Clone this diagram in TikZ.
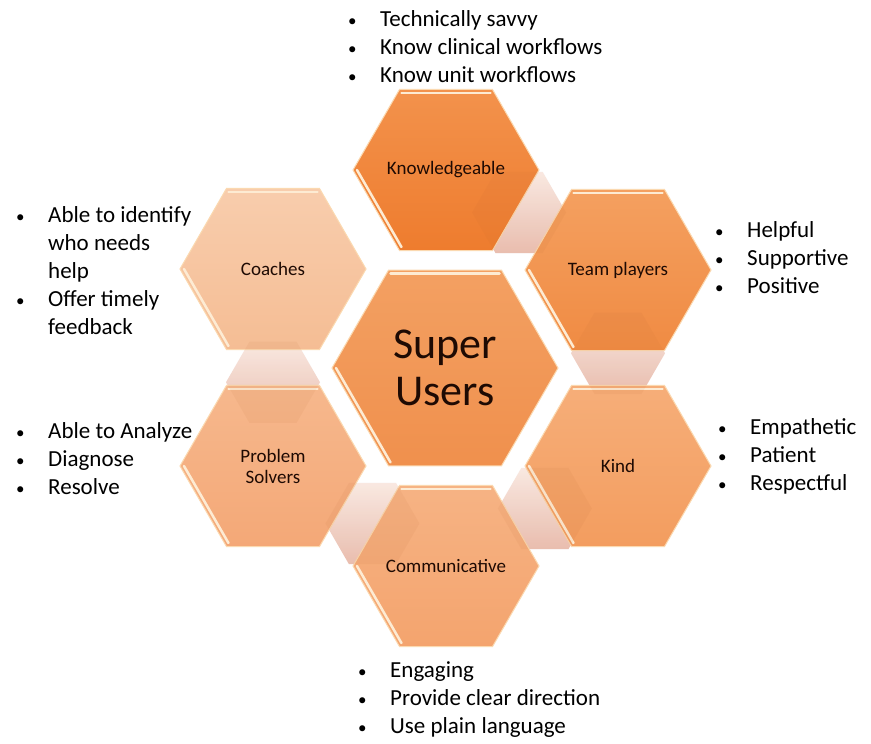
\documentclass[tikz,border=0pt]{standalone}
\usepackage{fontspec}
\setmainfont{Carlito}
\usetikzlibrary{shapes.geometric, calc}

\definecolor{knTop}{HTML}{F3924C}
\definecolor{knBot}{HTML}{EE7C2E}
\definecolor{tpTop}{HTML}{F4A060}
\definecolor{tpBot}{HTML}{F08B43}
\definecolor{suTop}{HTML}{F3A062}
\definecolor{suBot}{HTML}{F0904D}
\definecolor{kdTop}{HTML}{F6AE79}
\definecolor{kdBot}{HTML}{F39D5F}
\definecolor{cmTop}{HTML}{F6B384}
\definecolor{cmBot}{HTML}{F4A46E}
\definecolor{psTop}{HTML}{F6B88D}
\definecolor{psBot}{HTML}{F4A877}
\definecolor{coTop}{HTML}{F8CDAD}
\definecolor{coBot}{HTML}{F5BD94}
\definecolor{linkTop}{HTML}{FEF3EF}
\definecolor{linkBot}{HTML}{EDC4B8}
\definecolor{linkVeil}{HTML}{B8642E}
\definecolor{rimCol}{HTML}{FBD9B0}
\definecolor{hiliteCol}{HTML}{FDEBD3}
\definecolor{labelCol}{HTML}{1E0A03}

\newcommand{\dotmark}{{\fontsize{17}{28}\selectfont •}}

\begin{document}
\begin{tikzpicture}[x=1pt, y=-1pt,
    hexcell/.style={regular polygon, regular polygon sides=6, minimum size=186pt,
      inner sep=0pt, draw=rimCol, line width=1pt, align=center,
      text=labelCol, font=\fontsize{19}{21}\selectfont},
    linkcell/.style={regular polygon, regular polygon sides=6, minimum size=94pt,
      inner sep=0pt},
    traits/.style={anchor=base west, inner sep=0pt, font=\fontsize{23}{28}\selectfont},
    hilite/.style={draw=hiliteCol, line width=2.5pt, line cap=round}]
    % Page
    \fill[white] (0,0) rectangle (871,744);
    \useasboundingbox (0,0) rectangle (871,744);
    % Cell centres
    \coordinate (pSu) at (445,368);
    \coordinate (pKn) at (446,170);
    \coordinate (pTp) at (618,270);
    \coordinate (pKd) at (618,466);
    \coordinate (pCm) at (446,566);
    \coordinate (pPs) at (273,466);
    \coordinate (pCo) at (273,269);
    % Small link cells between neighbours (behind)
    \foreach \a/\b [count=\i] in {pKn/pTp, pTp/pKd, pKd/pCm, pCm/pPs, pPs/pCo}
      \node[linkcell, top color=linkTop, bottom color=linkBot] (lnk\i) at ($(\a)!0.425!(\b)$) {};
    % Outer cells (wide labels kept from growing the cell)
    \node[hexcell, top color=knTop, bottom color=knBot] (kn) at (pKn) {\makebox[0pt]{Knowledgeable}};
    \node[hexcell, top color=tpTop, bottom color=tpBot] (tp) at (pTp) {Team players};
    \node[hexcell, top color=kdTop, bottom color=kdBot] (kd) at (pKd) {Kind};
    \node[hexcell, top color=cmTop, bottom color=cmBot] (cm) at (pCm) {\makebox[0pt]{Communicative}};
    \node[hexcell, top color=psTop, bottom color=psBot] (ps) at (pPs) {Problem\\Solvers};
    \node[hexcell, top color=coTop, bottom color=coBot] (co) at (pCo) {Coaches};
    % Centre cell
    \node[hexcell, minimum size=226pt, top color=suTop, bottom color=suBot,
      font=\fontsize{44}{47}\selectfont] (su) at (pSu) {Super\\Users};
    % Bevel highlights
    \foreach \h/\r in {kn/93, tp/93, kd/93, cm/93, ps/93, co/93, su/113} {
      \draw[hilite] ($(\h)+(240:{\r-4})$) -- ($(\h)+(300:{\r-4})$);
      \draw[hilite] ($(\h)+(180:{\r-4})$) -- ($(\h)+(120:{\r-4})$);
    }
    % Link cells showing through
    \foreach \i in {1,...,5}
      \node[linkcell, fill=linkVeil, fill opacity=0.07] (veil\i) at (lnk\i) {};
    % Trait lists
    \node[traits] (knlist) at (348,27) {\begin{tabular}[t]{@{}p{32pt}@{}l@{}}
      \dotmark & Technically savvy\\ \dotmark & Know clinical workflows\\ \dotmark & Know unit workflows\end{tabular}};
    \node[traits] (tplist) at (715,237) {\begin{tabular}[t]{@{}p{32pt}@{}l@{}}
      \dotmark & Helpful\\ \dotmark & Supportive\\ \dotmark & Positive\end{tabular}};
    \node[traits] (kdlist) at (718,434) {\begin{tabular}[t]{@{}p{32pt}@{}l@{}}
      \dotmark & Empathetic\\ \dotmark & Patient\\ \dotmark & Respectful\end{tabular}};
    \node[traits] (cmlist) at (358,677) {\begin{tabular}[t]{@{}p{32pt}@{}l@{}}
      \dotmark & Engaging\\ \dotmark & Provide clear direction\\ \dotmark & Use plain language\end{tabular}};
    \node[traits] (pslist) at (16,438) {\begin{tabular}[t]{@{}p{32pt}@{}l@{}}
      \dotmark & Able to Analyze\\ \dotmark & Diagnose\\ \dotmark & Resolve\end{tabular}};
    \node[traits] (colist) at (16,222) {\begin{tabular}[t]{@{}p{32pt}@{}l@{}}
      \dotmark & Able to identify\\ & who needs\\ & help\\ \dotmark & Offer timely\\ & feedback\end{tabular}};
\end{tikzpicture}
\end{document}
